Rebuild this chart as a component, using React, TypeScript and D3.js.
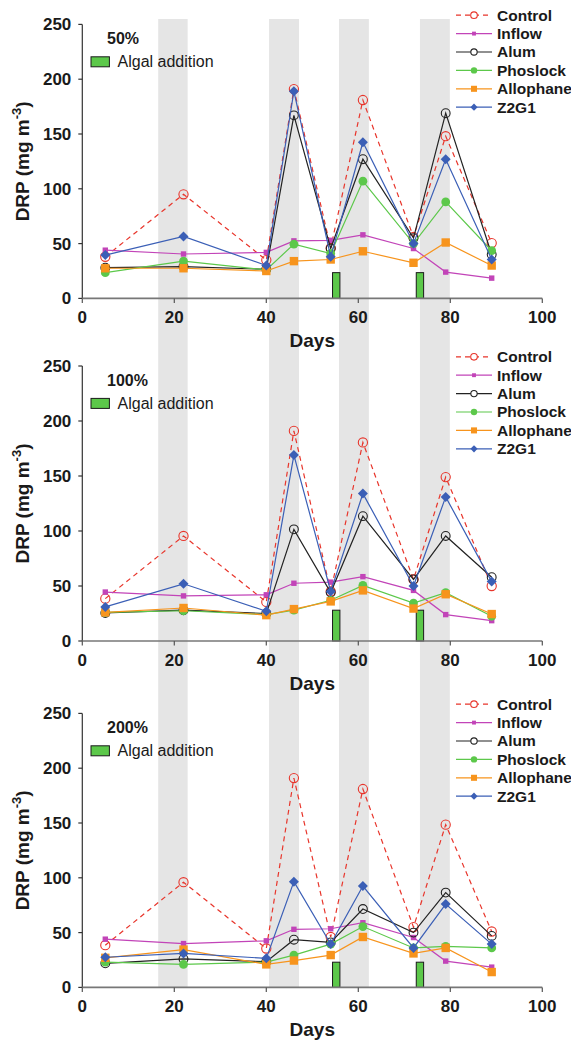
import React from "react";
import * as d3 from "d3";

const days = [5, 22, 40, 46, 54, 61, 72, 79, 89];
const seriesNames = ["Control", "Inflow", "Alum", "Phoslock", "Allophane", "Z2G1"];
const panelLabels = ["50%", "100%", "200%"];
const xTicks = [0, 20, 40, 60, 80, 100];
const yTicks = [0, 50, 100, 150, 200, 250];
const darkBands = [[16.5, 22.9], [40.6, 47.1], [55.8, 62.3], [73.4, 79.9]];
const algalDays = [55.2, 73.4];
const algalHeights = [23.5, 28, 23];

const control50 = [38, 95, 35, 191, 46, 181, 56, 148, 50.5];
const inflow50 = [44, 40.5, 42, 52.5, 53, 58, 45.5, 24, 18.5];
const alum50 = [28, 29, 26.5, 167, 45.5, 127, 55, 169, 40];
const phoslock50 = [23.5, 34, 26, 49.5, 41, 107, 50, 88, 43.5];
const allophane50 = [27.5, 27.5, 25, 34, 35.5, 43, 32.5, 51, 30];
const z2g150 = [39.5, 56.5, 30, 189, 38, 142.5, 50, 127, 35.5];

const control100 = [38.5, 95.5, 35.5, 191, 45, 180.5, 56, 149, 50];
const inflow100 = [44.5, 41, 42, 52.5, 53.5, 58.5, 46, 24, 18.5];
const alum100 = [25.5, 28, 25, 101.5, 44, 113.5, 56, 95.5, 58];
const phoslock100 = [26, 27.5, 24, 28, 37, 50.5, 34.5, 44, 22.5];
const allophane100 = [26, 30, 23.5, 29, 36, 46, 29.5, 42.5, 24.5];
const z2g1100 = [31, 52, 27, 169, 45, 134, 50, 131, 54];

const control200 = [38.5, 96, 35.5, 191, 46, 181, 55, 148.5, 51];
const inflow200 = [44, 40, 42.5, 53, 53.5, 59, 45.5, 24, 18.5];
const alum200 = [22, 26, 23.5, 43.5, 41, 71.5, 50, 86.5, 47];
const phoslock200 = [23, 21, 23, 29.5, 39.5, 55.5, 36, 37.5, 36];
const allophane200 = [27, 34.5, 21, 24.5, 29.5, 46, 31, 36, 14];
const z2g1200 = [27.5, 31, 26.5, 96.5, 39.5, 92.5, 36, 76, 39.5];

const panelData = [
  [control50, inflow50, alum50, phoslock50, allophane50, z2g150],
  [control100, inflow100, alum100, phoslock100, allophane100, z2g1100],
  [control200, inflow200, alum200, phoslock200, allophane200, z2g1200],
];

const colors = ["#e8352b", "#c244b8", "#222222", "#5cc84a", "#f7941d", "#3b5fb6"];
const dashes = ["5,4", null, null, null, null, null];

const FONT = "'Liberation Sans', Arial, Helvetica, sans-serif";
const W = 571;
const H = 1041;
const panelTops = [24.4, 366, 713.4];
const panelH = [274, 275, 274];

const x = d3.scaleLinear().domain([0, 100]).range([82.3, 542.3]);

function Marker({ i, cx, cy, s = 1 }: { i: number; cx: number; cy: number; s?: number }) {
  const c = colors[i];
  if (i === 0) return <circle cx={cx} cy={cy} r={4.6 * s} fill={s < 1 ? "#fff" : "none"} stroke={c} strokeWidth={1.1} />;
  if (i === 1) return <rect x={cx - 2.7 * s} y={cy - 2.7 * s} width={5.4 * s} height={5.4 * s} fill={c} />;
  if (i === 2) return <circle cx={cx} cy={cy} r={4.4 * s} fill={s < 1 ? "#fff" : "none"} stroke={c} strokeWidth={1.1} />;
  if (i === 3) return <circle cx={cx} cy={cy} r={4.4 * s} fill={c} />;
  if (i === 4) return <rect x={cx - 4.2 * s} y={cy - 4.2 * s} width={8.4 * s} height={8.4 * s} fill={c} />;
  const k = 5 * s;
  return <path d={`M${cx},${cy - k}L${cx + k},${cy}L${cx},${cy + k}L${cx - k},${cy}Z`} fill={c} />;
}

function Panel({ p }: { p: number }) {
  const top = panelTops[p];
  const bottom = top + panelH[p];
  const y = d3.scaleLinear().domain([0, 250]).range([bottom, top]);
  const line = d3
    .line<number>()
    .x((_, k) => x(days[k]))
    .y((v) => y(v));
  const legendX = 456;
  const legendTop = top - 9.2;
  const rowH = 18.4;
  return (
    <g>
      {algalDays.map((d, k) => (
        <rect
          key={k}
          x={x(d - 0.8)}
          y={y(algalHeights[p])}
          width={x(d + 0.8) - x(d - 0.8)}
          height={y(0) - y(algalHeights[p])}
          fill="#5cc84a"
          stroke="#1a1a1a"
          strokeWidth={1}
        />
      ))}
      <line x1={x(0)} x2={x(0)} y1={y(0)} y2={y(250)} stroke="#333" strokeWidth={1.2} />
      {yTicks.map((t) => (
        <g key={t}>
          <line x1={x(0) - 4} x2={x(0)} y1={y(t)} y2={y(t)} stroke="#333" strokeWidth={1.2} />
          <text
            x={x(0) - 11}
            y={y(t) + 6}
            textAnchor="end"
            fontFamily={FONT}
            fontWeight="bold"
            fontSize={17}
            fill="#1a1a1a"
          >
            {t}
          </text>
        </g>
      ))}
      <line x1={x(0)} x2={x(100)} y1={y(0)} y2={y(0)} stroke="#777" strokeWidth={1.6} />
      {xTicks.map((t) => (
        <g key={t}>
          <line x1={x(t)} x2={x(t)} y1={y(0)} y2={y(0) + 4.5} stroke="#555" strokeWidth={1.2} />
          <text
            x={x(t)}
            y={y(0) + 25}
            textAnchor="middle"
            fontFamily={FONT}
            fontWeight="bold"
            fontSize={17}
            fill="#1a1a1a"
          >
            {t}
          </text>
        </g>
      ))}
      <text
        x={(x(0) + x(100)) / 2}
        y={y(0) + 49}
        textAnchor="middle"
        fontFamily={FONT}
        fontWeight="bold"
        fontSize={19}
        fill="#1a1a1a"
      >
        Days
      </text>
      <text
        transform={`translate(28.5,${(top + bottom) / 2}) rotate(-90)`}
        textAnchor="middle"
        fontFamily={FONT}
        fontWeight="bold"
        fontSize={19}
        fill="#1a1a1a"
      >
        DRP (mg m
        <tspan fontSize={13} dy={-8}>
          -3
        </tspan>
        <tspan dy={8}>)</tspan>
      </text>
      {panelData[p].map((vals, i) => (
        <g key={i}>
          <path
            d={line(vals) || ""}
            fill="none"
            stroke={colors[i]}
            strokeWidth={1.2}
            strokeDasharray={dashes[i] || undefined}
          />
          {vals.map((v, k) => (
            <Marker key={k} i={i} cx={x(days[k])} cy={y(v)} />
          ))}
        </g>
      ))}
      <text x={107} y={top + 19.7} fontFamily={FONT} fontWeight="bold" fontSize={16} fill="#1a1a1a">
        {panelLabels[p]}
      </text>
      <rect x={91} y={top + 32.4} width={18.4} height={10} fill="#5cc84a" stroke="#1a1a1a" strokeWidth={1} />
      <text x={117.5} y={top + 42.6} fontFamily={FONT} fontSize={16} fill="#1a1a1a">
        Algal addition
      </text>
      {seriesNames.map((name, i) => {
        const cy = legendTop + i * rowH;
        return (
          <g key={name}>
            <line
              x1={legendX}
              x2={legendX + 36}
              y1={cy}
              y2={cy}
              stroke={colors[i]}
              strokeWidth={1.2}
              strokeDasharray={dashes[i] || undefined}
            />
            <Marker i={i} cx={legendX + 18} cy={cy} s={0.72} />
            <text x={legendX + 41} y={cy + 5.4} fontFamily={FONT} fontWeight="bold" fontSize={15.5} fill="#1a1a1a">
              {name}
            </text>
          </g>
        );
      })}
    </g>
  );
}

export default function App() {
  return (
    <svg
      width={W}
      height={H}
      viewBox={`0 0 ${W} ${H}`}
      style={{ position: "absolute", left: 0, top: 0, background: "#fff", display: "block" }}
    >
      <rect x={0} y={0} width={W} height={H} fill="#fff" />
      {darkBands.map(([a, b], k) => (
        <rect key={k} x={x(a)} y={19} width={x(b) - x(a)} height={panelTops[2] + panelH[2] - 19} fill="#e5e5e5" />
      ))}
      {[0, 1, 2].map((p) => (
        <Panel key={p} p={p} />
      ))}
    </svg>
  );
}
